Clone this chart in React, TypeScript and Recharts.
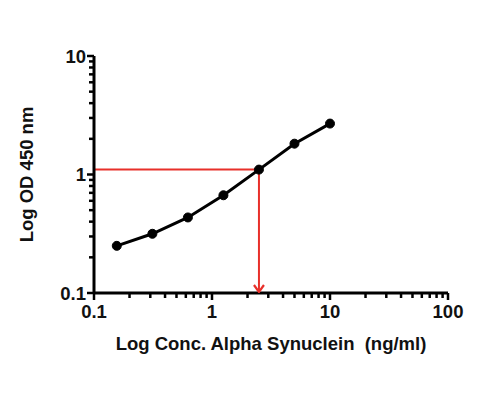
import React from 'react';
import { LineChart, Line, XAxis, YAxis, Label } from 'recharts';

const concentrations = [0.156, 0.3125, 0.625, 1.25, 2.5, 5, 10];
const odValues = [0.25, 0.316, 0.434, 0.668, 1.1, 1.82, 2.69];

const guideX = [0.1, 2.5, 2.5];
const guideY = [1.1, 1.1, 0.1];

const xTicks = [0.1, 0.2, 0.3, 0.4, 0.5, 0.6, 0.7, 0.8, 0.9, 1, 2, 3, 4, 5, 6, 7, 8, 9, 10, 20, 30, 40, 50, 60, 70, 80, 90, 100];
const yTicks = [0.1, 0.2, 0.3, 0.4, 0.5, 0.6, 0.7, 0.8, 0.9, 1, 2, 3, 4, 5, 6, 7, 8, 9, 10];
const majorLabels: Record<string, string> = { '0.1': '0.1', '1': '1', '10': '10', '100': '100' };

const curve = concentrations.map((c, i) => ({ x: c, y: odValues[i] }));
const guide = guideX.map((x, i) => ({ x, y: guideY[i] }));

const FONT = '"Liberation Sans", Arial, Helvetica, sans-serif';

const XTick = (props: any) => {
  const { x, y, payload } = props;
  const key = String(payload.value);
  const major = key in majorLabels;
  return (
    <g>
      <line x1={x} y1={y} x2={x} y2={y + (major ? 7 : 5)} stroke="#000" strokeWidth={2.5} />
      {major && (
        <text x={x} y={y + 25} textAnchor="middle" fontFamily={FONT} fontWeight="bold" fontSize={18.5} fill="#111">
          {majorLabels[key]}
        </text>
      )}
    </g>
  );
};

const YTick = (props: any) => {
  const { x, y, payload } = props;
  const key = String(payload.value);
  const major = key in majorLabels;
  return (
    <g>
      <line x1={x - (major ? 7 : 5)} y1={y} x2={x} y2={y} stroke="#000" strokeWidth={2.5} />
      {major && (
        <text x={x - 8} y={y + 6.5} textAnchor="end" fontFamily={FONT} fontWeight="bold" fontSize={18.5} fill="#111">
          {majorLabels[key]}
        </text>
      )}
    </g>
  );
};

const ArrowDot = (props: any) => {
  const { cx, cy, index } = props;
  if (index !== guide.length - 1) return <g key={`d${index}`} />;
  return (
    <polyline
      key={`d${index}`}
      points={`${cx - 5},${cy - 8} ${cx},${cy - 1} ${cx + 5},${cy - 8}`}
      fill="none"
      stroke="#e8302a"
      strokeWidth={2.2}
    />
  );
};

export default function App() {
  return (
    <div style={{ position: 'absolute', left: 0, top: 0, width: 500, height: 400, background: '#fff' }}>
      <LineChart width={500} height={400} margin={{ top: 56, right: 52, bottom: 0, left: 0 }}>
        <XAxis
          dataKey="x"
          type="number"
          scale="log"
          domain={[0.1, 100]}
          ticks={xTicks}
          interval={0}
          allowDataOverflow
          height={107}
          tickLine={false}
          tickSize={0}
          tickMargin={0}
          tick={<XTick />}
          axisLine={{ stroke: '#000', strokeWidth: 3 }}
        >
          <Label
            content={({ viewBox }: any) => (
              <text
                x={viewBox.x + viewBox.width / 2}
                y={viewBox.y + 57}
                textAnchor="middle"
                fontFamily={FONT}
                fontWeight="bold"
                fontSize={18.5}
                fill="#111"
                style={{ whiteSpace: 'pre' }}
              >
                {'Log Conc. Alpha Synuclein  (ng/ml)'}
              </text>
            )}
          />
        </XAxis>
        <YAxis
          dataKey="y"
          type="number"
          scale="log"
          domain={[0.1, 10]}
          ticks={yTicks}
          interval={0}
          allowDataOverflow
          width={94}
          tickLine={false}
          tickSize={0}
          tickMargin={0}
          tick={<YTick />}
          axisLine={{ stroke: '#000', strokeWidth: 3 }}
        >
          <Label
            content={({ viewBox }: any) => {
              const cx = 33;
              const cy = viewBox.y + viewBox.height / 2;
              return (
                <text
                  x={cx}
                  y={cy}
                  transform={`rotate(-90 ${cx} ${cy})`}
                  textAnchor="middle"
                  fontFamily={FONT}
                  fontWeight="bold"
                  fontSize={18.5}
                  fill="#111"
                >
                  Log OD 450 nm
                </text>
              );
            }}
          />
        </YAxis>
        <Line
          data={guide}
          dataKey="y"
          type="linear"
          stroke="#e8302a"
          strokeWidth={2}
          dot={<ArrowDot />}
          activeDot={false}
          isAnimationActive={false}
        />
        <Line
          data={curve}
          dataKey="y"
          type="linear"
          stroke="#000"
          strokeWidth={3}
          dot={{ r: 4.5, fill: '#000', stroke: '#000', strokeWidth: 1 }}
          activeDot={false}
          isAnimationActive={false}
        />
      </LineChart>
    </div>
  );
}
